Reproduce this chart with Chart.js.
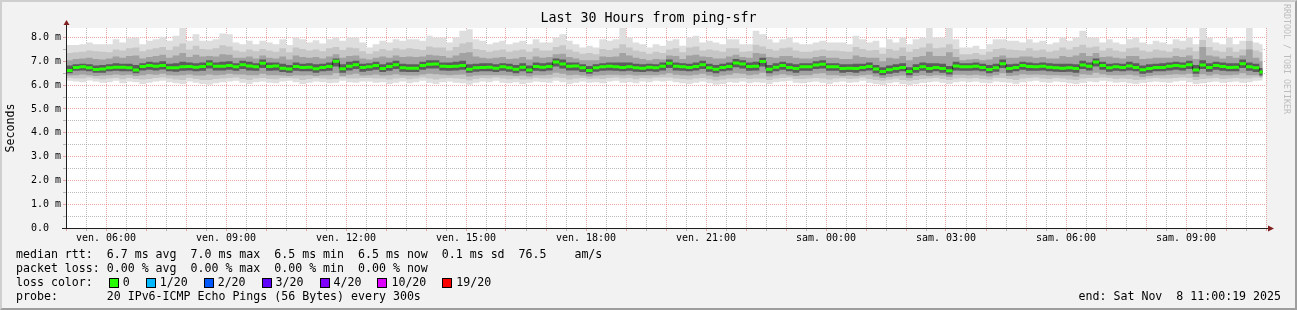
<!DOCTYPE html>
<html>
<head>
<meta charset="utf-8">
<title>Last 30 Hours from ping-sfr</title>
<script src="https://cdn.jsdelivr.net/npm/chart.js"></script>
<style>
  html, body { margin:0; padding:0; background:#f2f2f2; }
  #frame { position:absolute; left:0; top:0; width:1297px; height:310px; box-sizing:border-box;
    border-style:solid; border-width:2px; border-color:#cfcfcf #9e9e9e #9e9e9e #cfcfcf; background:#f2f2f2; }
  #chart { position:absolute; left:0; top:0; }
  .txt { position:absolute; font-family:'DejaVu Sans Mono', monospace; font-size:11.6px; line-height:14px; white-space:pre; color:#000; }
  #legend { left:16px; top:247px; }
  #end { right:16px; top:289px; }
  .box { display:inline-block; width:8px; height:8px; border:1px solid #000; vertical-align:middle; margin:0 4px 0 2px; }
  .lbl { margin-right:14px; }
  #wm { position:absolute; left:1282px; top:4px; writing-mode:vertical-rl; font-family:'DejaVu Sans Mono', monospace;
    font-size:8.3px; line-height:9px; color:#bdbdbd; white-space:pre; }
</style>
</head>
<body>
<div id="frame"></div>
<canvas id="chart" width="1297" height="310"></canvas>
<div id="legend" class="txt"></div>
<div id="end" class="txt"></div>
<div id="wm">RRDTOOL / TOBI OETIKER</div>
<script>
// ---------------- data (ms), one value per 10-minute step from Fri 05:00 ----------------
const stepMinutes = 10;
const dataEndMinute = 1795;

const medianRtt = [
  6.62,6.74,6.77,6.73,6.66,6.68,6.73,6.75,6.75,6.73, 6.64,6.78,6.82,6.79,6.83,6.73,6.73,6.77,6.78,6.75,
  6.78,6.89,6.79,6.79,6.83,6.77,6.86,6.80,6.77,6.92, 6.78,6.80,6.71,6.68,6.78,6.74,6.75,6.69,6.74,6.78,
  7.00,6.69,6.79,6.86,6.74,
  6.77,6.83,6.70,6.78,6.86,6.73,6.71,6.71,6.83,6.88, 6.89,6.79,6.78,6.79,6.82,6.67,6.73,6.74,6.75,6.71,
  6.77,6.73,6.67,6.75,6.64,6.78,6.75,6.78,6.97,6.89, 6.79,6.80,6.73,6.62,6.73,6.77,6.79,6.77,6.74,6.77,
  6.73,6.71,6.75,6.73,6.79,
  6.92,6.79,6.77,6.74,6.78,6.86,6.73,6.67,6.74,6.78, 6.93,6.89,6.78,6.79,6.99,6.67,6.75,6.82,6.74,6.70,
  6.77,6.77,6.85,6.88,6.77,6.77,6.70,6.71,6.70,6.74, 6.78,6.68,6.57,6.65,6.70,6.74,6.57,6.70,6.77,6.70,
  6.74,6.70,6.60,6.80,6.77,
  6.77,6.79,6.74,6.66,6.73,6.90,6.70,6.74,6.83,6.78, 6.77,6.79,6.75,6.73,6.71,6.73,6.70,6.85,6.79,6.97,
  6.82,6.73,6.77,6.74,6.80,6.74,6.65,6.70,6.74,6.74, 6.79,6.82,6.79,6.86,6.64,6.85,6.74,6.83,6.78,6.74,
  6.75,6.90,6.77,6.73,6.55
];
const maxRtt = [
  7.69,7.69,7.72,7.79,7.72,7.72,7.72,7.93,7.79,7.97, 8.00,7.72,7.86,7.93,8.03,7.86,8.07,8.42,7.86,8.14,
  7.86,7.86,7.93,8.17,8.14,7.79,7.72,7.86,7.72,7.86, 7.79,7.72,7.93,7.69,8.00,7.93,7.79,7.89,7.75,7.93,
  8.00,7.86,8.00,8.00,7.79,
  7.58,7.72,7.86,7.79,7.93,7.86,7.93,7.93,7.86,8.07, 8.00,8.00,7.79,8.00,8.28,8.35,7.93,7.86,7.72,7.79,
  7.86,7.72,7.79,7.86,7.72,7.93,7.79,7.79,8.00,8.14, 7.86,7.72,7.58,7.65,7.58,7.93,7.86,7.93,8.42,8.00,
  7.79,7.72,7.58,7.72,7.65,
  7.86,7.93,7.65,8.00,8.07,7.79,7.86,7.79,7.72,7.93, 7.93,7.72,7.72,8.28,8.14,7.93,7.79,7.93,8.00,7.79,
  7.72,7.72,7.79,7.86,7.79,7.79,7.79,7.72,8.07,7.93, 7.79,7.86,7.58,7.93,7.79,8.00,7.72,7.93,8.00,8.42,
  8.00,8.00,8.42,7.93,7.58,
  7.58,7.65,7.51,7.72,7.93,7.93,7.86,7.86,7.79,7.93, 7.79,7.86,7.72,7.79,8.00,7.86,8.00,8.28,8.00,8.00,
  7.79,7.93,7.79,7.72,7.93,8.00,7.79,7.72,7.86,7.79, 7.72,7.93,7.86,8.00,7.72,8.43,8.00,7.79,7.72,8.00,
  7.72,7.86,8.43,7.79,7.72
];
const upperOuter = [
  7.35,7.38,7.40,7.45,7.42,7.40,7.38,7.50,7.45,7.55, 7.58,7.42,7.50,7.55,7.60,7.48,7.62,7.75,7.50,7.65,
  7.52,7.50,7.55,7.68,7.62,7.45,7.40,7.50,7.42,7.52, 7.45,7.40,7.55,7.38,7.58,7.52,7.45,7.50,7.42,7.55,
  7.60,7.48,7.58,7.55,7.42,
  7.32,7.42,7.52,7.45,7.55,7.50,7.55,7.52,7.48,7.62, 7.58,7.58,7.45,7.60,7.75,7.80,7.52,7.48,7.40,7.45,
  7.50,7.40,7.45,7.50,7.40,7.55,7.45,7.45,7.60,7.68, 7.50,7.40,7.32,7.35,7.30,7.52,7.48,7.55,7.72,7.58,
  7.45,7.40,7.32,7.40,7.35,
  7.50,7.55,7.38,7.58,7.62,7.45,7.50,7.45,7.40,7.55, 7.55,7.40,7.42,7.70,7.62,7.52,7.45,7.55,7.58,7.45,
  7.40,7.40,7.45,7.50,7.45,7.45,7.42,7.40,7.60,7.52, 7.45,7.48,7.32,7.52,7.45,7.58,7.40,7.52,7.58,7.75,
  7.55,7.58,7.72,7.52,7.30,
  7.30,7.35,7.28,7.40,7.52,7.55,7.50,7.48,7.45,7.55, 7.45,7.50,7.40,7.45,7.58,7.50,7.60,7.70,7.58,7.62,
  7.45,7.55,7.45,7.40,7.55,7.58,7.45,7.40,7.50,7.45, 7.40,7.55,7.50,7.58,7.42,7.90,7.60,7.45,7.40,7.58,
  7.40,7.50,7.85,7.45,7.38
];
const upperMiddle = [
  7.05,7.10,7.12,7.15,7.10,7.08,7.12,7.20,7.15,7.22, 7.25,7.12,7.18,7.22,7.28,7.15,7.25,7.35,7.18,7.28,
  7.20,7.22,7.20,7.30,7.28,7.15,7.15,7.20,7.12,7.25, 7.15,7.12,7.20,7.08,7.25,7.18,7.15,7.18,7.12,7.20,
  7.30,7.15,7.22,7.25,7.12,
  7.08,7.15,7.20,7.15,7.25,7.18,7.20,7.18,7.20,7.28, 7.25,7.22,7.15,7.25,7.35,7.38,7.20,7.15,7.12,7.15,
  7.18,7.10,7.12,7.18,7.08,7.20,7.15,7.18,7.30,7.32, 7.18,7.12,7.05,7.05,7.05,7.20,7.18,7.20,7.35,7.25,
  7.15,7.10,7.05,7.10,7.08,
  7.25,7.22,7.10,7.25,7.28,7.20,7.18,7.12,7.12,7.20, 7.28,7.18,7.15,7.35,7.32,7.18,7.15,7.22,7.22,7.15,
  7.12,7.12,7.18,7.22,7.15,7.15,7.10,7.10,7.25,7.18, 7.15,7.15,7.00,7.15,7.12,7.22,7.05,7.18,7.22,7.40,
  7.22,7.22,7.38,7.18,7.05,
  7.08,7.10,7.05,7.08,7.18,7.25,7.15,7.15,7.20,7.20, 7.15,7.18,7.12,7.12,7.22,7.18,7.25,7.35,7.22,7.35,
  7.18,7.20,7.15,7.12,7.22,7.22,7.10,7.12,7.15,7.15, 7.15,7.22,7.18,7.25,7.10,7.60,7.25,7.20,7.12,7.22,
  7.15,7.25,7.50,7.15,7.00
];
const upperInner = [
  6.82,6.88,6.90,6.88,6.82,6.85,6.88,6.92,6.90,6.90, 6.85,6.92,6.98,6.95,7.00,6.90,6.92,6.98,6.95,6.92,
  6.95,7.05,6.95,6.98,7.00,6.92,7.02,6.98,6.92,7.08, 6.95,6.95,6.90,6.85,6.95,6.90,6.92,6.88,6.90,6.95,
  7.12,6.88,6.98,7.02,6.90,
  6.92,6.98,6.88,6.95,7.02,6.90,6.88,6.88,6.98,7.05, 7.05,6.95,6.95,6.98,7.02,6.88,6.90,6.92,6.92,6.88,
  6.92,6.90,6.85,6.92,6.82,6.95,6.92,6.95,7.12,7.08, 6.95,6.95,6.88,6.80,6.88,6.92,6.95,6.95,6.95,6.95,
  6.90,6.88,6.90,6.88,6.95,
  7.08,6.95,6.92,6.90,6.95,7.02,6.90,6.85,6.90,6.95, 7.10,7.05,6.95,6.98,7.15,6.85,6.92,6.98,6.92,6.88,
  6.92,6.92,7.00,7.05,6.92,6.92,6.88,6.88,6.90,6.90, 6.95,6.85,6.75,6.82,6.88,6.92,6.75,6.88,6.95,6.92,
  6.92,6.90,6.80,6.98,6.92,
  6.92,6.95,6.90,6.85,6.90,7.08,6.88,6.90,6.98,6.95, 6.92,6.95,6.92,6.90,6.90,6.90,6.88,7.02,6.95,7.12,
  6.98,6.90,6.92,6.90,6.98,6.92,6.82,6.88,6.90,6.92, 6.95,6.98,6.95,7.02,6.85,7.05,6.92,6.98,6.95,6.92,
  6.92,7.08,6.95,6.90,6.72
];
const lowerInner = [
  6.50,6.60,6.62,6.58,6.52,6.52,6.58,6.60,6.58,6.58, 6.50,6.62,6.65,6.62,6.66,6.58,6.56,6.60,6.62,6.58,
  6.60,6.70,6.62,6.62,6.65,6.60,6.68,6.62,6.60,6.72, 6.60,6.62,6.55,6.52,6.60,6.58,6.58,6.52,6.58,6.60,
  6.78,6.52,6.62,6.68,6.56,
  6.60,6.65,6.55,6.60,6.68,6.56,6.55,6.55,6.65,6.70, 6.70,6.62,6.60,6.62,6.65,6.52,6.56,6.58,6.58,6.55,
  6.60,6.56,6.50,6.58,6.50,6.60,6.58,6.62,6.78,6.70, 6.62,6.62,6.55,6.48,6.56,6.60,6.62,6.60,6.58,6.60,
  6.56,6.55,6.58,6.56,6.62,
  6.72,6.62,6.60,6.58,6.62,6.68,6.56,6.50,6.58,6.62, 6.75,6.70,6.60,6.62,6.78,6.50,6.58,6.65,6.58,6.52,
  6.60,6.60,6.68,6.70,6.60,6.60,6.52,6.55,6.52,6.58, 6.62,6.50,6.42,6.48,6.52,6.58,6.42,6.52,6.60,6.52,
  6.58,6.52,6.45,6.62,6.60,
  6.60,6.62,6.58,6.50,6.56,6.72,6.52,6.58,6.65,6.60, 6.60,6.62,6.58,6.56,6.55,6.56,6.52,6.68,6.62,6.78,
  6.65,6.56,6.60,6.58,6.62,6.58,6.48,6.52,6.58,6.58, 6.62,6.65,6.62,6.68,6.48,6.68,6.56,6.65,6.60,6.58,
  6.58,6.72,6.60,6.55,6.40
];
const lowerMiddle = [
  6.40,6.42,6.45,6.42,6.38,6.40,6.42,6.45,6.42,6.44, 6.38,6.42,6.46,6.44,6.48,6.42,6.40,6.42,6.45,6.40,
  6.40,6.45,6.42,6.44,6.48,6.45,6.45,6.42,6.42,6.48, 6.42,6.42,6.40,6.38,6.42,6.40,6.42,6.38,6.42,6.42,
  6.50,6.38,6.44,6.48,6.40,
  6.42,6.45,6.40,6.42,6.46,6.42,6.40,6.40,6.45,6.48, 6.46,6.44,6.42,6.44,6.45,6.36,6.40,6.42,6.42,6.42,
  6.42,6.40,6.38,6.40,6.36,6.42,6.42,6.44,6.52,6.48, 6.42,6.44,6.40,6.36,6.40,6.42,6.44,6.44,6.42,6.44,
  6.40,6.42,6.42,6.42,6.45,
  6.50,6.44,6.42,6.40,6.44,6.48,6.40,6.35,6.40,6.44, 6.50,6.48,6.42,6.45,6.52,6.36,6.42,6.46,6.42,6.38,
  6.42,6.42,6.48,6.50,6.42,6.42,6.38,6.40,6.38,6.42, 6.44,6.36,6.30,6.34,6.38,6.40,6.30,6.38,6.42,6.38,
  6.42,6.40,6.34,6.44,6.44,
  6.42,6.44,6.40,6.36,6.42,6.50,6.38,6.40,6.46,6.44, 6.45,6.44,6.42,6.42,6.40,6.40,6.36,6.46,6.44,6.52,
  6.46,6.42,6.42,6.42,6.44,6.40,6.34,6.38,6.42,6.42, 6.44,6.46,6.45,6.48,6.34,6.46,6.40,6.46,6.42,6.42,
  6.44,6.50,6.42,6.42,6.36
];
const lowerOuter = [
  6.30,6.28,6.28,6.32,6.28,6.25,6.28,6.30,6.25,6.30, 6.26,6.24,6.26,6.30,6.32,6.28,6.24,6.22,6.30,6.26,
  6.22,6.22,6.26,6.28,6.30,6.32,6.26,6.22,6.28,6.30, 6.26,6.25,6.30,6.30,6.28,6.22,6.26,6.30,6.28,6.25,
  6.26,6.32,6.28,6.28,6.30,
  6.30,6.28,6.28,6.24,6.28,6.30,6.25,6.28,6.32,6.28, 6.24,6.28,6.30,6.28,6.26,6.20,6.26,6.30,6.28,6.32,
  6.28,6.25,6.28,6.24,6.25,6.30,6.28,6.28,6.32,6.30, 6.24,6.28,6.30,6.26,6.28,6.26,6.30,6.32,6.28,6.30,
  6.25,6.30,6.28,6.32,6.32,
  6.32,6.28,6.26,6.24,6.28,6.30,6.25,6.20,6.24,6.28, 6.28,6.30,6.26,6.28,6.28,6.22,6.28,6.30,6.32,6.26,
  6.26,6.28,6.30,6.28,6.24,6.28,6.30,6.26,6.28,6.32, 6.26,6.22,6.18,6.24,6.28,6.22,6.18,6.22,6.26,6.28,
  6.30,6.26,6.22,6.28,6.30,
  6.28,6.30,6.26,6.24,6.30,6.30,6.26,6.22,6.28,6.30, 6.32,6.28,6.26,6.30,6.28,6.24,6.22,6.28,6.30,6.30,
  6.32,6.30,6.26,6.28,6.26,6.22,6.24,6.28,6.30,6.28, 6.28,6.30,6.32,6.30,6.22,6.26,6.28,6.30,6.26,6.28,
  6.30,6.28,6.28,6.32,6.30
];
const minRtt = [
  6.18,6.15,6.12,6.20,6.15,6.10,6.12,6.18,6.08,6.15, 6.12,6.05,6.10,6.15,6.18,6.12,6.08,6.05,6.15,6.10,
  6.05,6.02,6.08,6.12,6.15,6.18,6.10,6.05,6.12,6.15, 6.10,6.08,6.15,6.18,6.12,6.05,6.10,6.15,6.12,6.08,
  6.10,6.18,6.12,6.10,6.15,
  6.15,6.10,6.12,6.05,6.10,6.15,6.08,6.12,6.18,6.10, 6.05,6.12,6.15,6.10,6.08,6.02,6.10,6.15,6.12,6.18,
  6.10,6.08,6.12,6.05,6.10,6.15,6.12,6.10,6.18,6.12, 6.05,6.10,6.15,6.10,6.12,6.08,6.15,6.18,6.10,6.12,
  6.08,6.15,6.12,6.18,6.15,
  6.18,6.12,6.08,6.05,6.10,6.15,6.08,6.02,6.05,6.12, 6.10,6.15,6.08,6.12,6.10,6.05,6.12,6.15,6.18,6.10,
  6.08,6.12,6.15,6.10,6.05,6.12,6.15,6.10,6.12,6.18, 6.10,6.05,6.02,6.08,6.12,6.05,6.00,6.05,6.10,6.12,
  6.15,6.10,6.05,6.12,6.15,
  6.12,6.15,6.10,6.08,6.15,6.12,6.10,6.05,6.12,6.15, 6.18,6.12,6.10,6.15,6.12,6.08,6.05,6.10,6.15,6.12,
  6.18,6.15,6.10,6.12,6.08,6.05,6.10,6.12,6.15,6.12, 6.10,6.15,6.18,6.12,6.05,6.08,6.12,6.15,6.10,6.12,
  6.15,6.10,6.12,6.18,6.20
];

// ---------------- ticks / labels ----------------
const xTickLabels = ['ven. 06:00','ven. 09:00','ven. 12:00','ven. 15:00','ven. 18:00',
                     'ven. 21:00','sam. 00:00','sam. 03:00','sam. 06:00','sam. 09:00'];
const xFirstLabelMinute = 60, xLabelEveryMinutes = 180;
const yTickLabels = ['0.0  ','1.0 m','2.0 m','3.0 m','4.0 m','5.0 m','6.0 m','7.0 m','8.0 m'];

const statLines = [
  'median rtt:  6.7 ms avg  7.0 ms max  6.5 ms min  6.5 ms now  0.1 ms sd  76.5    am/s',
  'packet loss: 0.00 % avg  0.00 % max  0.00 % min  0.00 % now'
];
const lossLabels = ['0','1/20','2/20','3/20','4/20','10/20','19/20'];
const lossColors = ['#26ff00','#00b8ff','#0059ff','#5e00ff','#7e00ff','#dd00ff','#ff0000'];
const probeLine = 'probe:       20 IPv6-ICMP Echo Pings (56 Bytes) every 300s';
const endLine = 'end: Sat Nov  8 11:00:19 2025';

// ---------------- legend (HTML text) ----------------
(function buildLegend() {
  const lg = document.getElementById('legend');
  let html = statLines.join('\n') + '\nloss color:  ';
  lossLabels.forEach((l, i) => {
    html += '<span class="box" style="background:' + lossColors[i] + '"></span><span class="lbl">' + l + '</span>';
  });
  html += '\n' + probeLine;
  lg.innerHTML = html;
  document.getElementById('end').textContent = endLine;
})();

// ---------------- chart ----------------
function stepPts(arr) {
  const pts = arr.map((v, i) => ({x: i * stepMinutes, y: v}));
  pts.push({x: dataEndMinute, y: arr[arr.length - 1]});
  return pts;
}
function segPts(arr) {
  const pts = [];
  arr.forEach((v, i) => {
    const x1 = Math.min((i + 1) * stepMinutes, dataEndMinute);
    pts.push({x: i * stepMinutes, y: v}, {x: x1, y: v}, {x: x1, y: null});
  });
  return pts;
}
function band(hi, lo, color, order) {
  const common = {stepped: true, borderWidth: 0, borderColor: 'rgba(0,0,0,0)', pointRadius: 0, order};
  return [
    Object.assign({data: stepPts(hi), fill: false}, common),
    Object.assign({data: stepPts(lo), fill: '-1', backgroundColor: color}, common)
  ];
}

const MONO = "'DejaVu Sans Mono', monospace";
Chart.defaults.font.family = MONO;
Chart.defaults.color = '#000';

const minorGrid = 'rgba(143,143,143,0.6)';
const majorGrid = 'rgba(222,79,79,0.5)';

const canvasBg = {
  id: 'canvasBg',
  beforeDraw(chart) {
    const {ctx, chartArea: a} = chart;
    ctx.save();
    ctx.fillStyle = '#ffffff';
    ctx.fillRect(a.left, a.top, a.right - a.left, a.bottom - a.top);
    ctx.restore();
  }
};
const axisArrows = {
  id: 'axisArrows',
  afterDatasetsDraw(chart) {
    const {ctx, chartArea: a} = chart;
    const x0 = Math.round(a.left) + 0.5, y0 = Math.round(a.bottom) + 0.5;
    ctx.save();
    ctx.strokeStyle = '#1f1f1f';
    ctx.lineWidth = 1;
    ctx.beginPath();
    ctx.moveTo(x0, y0); ctx.lineTo(x0, a.top - 4);
    ctx.moveTo(a.left - 4, y0); ctx.lineTo(a.right + 4, y0);
    ctx.stroke();
    ctx.fillStyle = '#801f1f';
    ctx.beginPath();
    ctx.moveTo(x0 - 3, a.top - 3); ctx.lineTo(x0 + 3, a.top - 3); ctx.lineTo(x0, a.top - 8);
    ctx.closePath(); ctx.fill();
    ctx.beginPath();
    ctx.moveTo(a.right + 2, y0 - 3); ctx.lineTo(a.right + 2, y0 + 3); ctx.lineTo(a.right + 8, y0);
    ctx.closePath(); ctx.fill();
    ctx.restore();
  }
};

const datasets = [
  {data: segPts(medianRtt), borderColor: '#26ff00', borderWidth: 3, borderCapStyle: 'butt',
   pointRadius: 0, spanGaps: false, fill: false, order: 1},
  {data: stepPts(medianRtt), stepped: true, borderColor: '#202020', borderWidth: 1,
   pointRadius: 0, fill: false, order: 2},
  ...band(upperInner, lowerInner, '#5c5c5c', 3),
  ...band(upperMiddle, lowerMiddle, '#a2a2a2', 4),
  ...band(upperOuter, lowerOuter, '#c6c6c6', 5),
  ...band(maxRtt, minRtt, '#dedede', 6)
];

new Chart(document.getElementById('chart'), {
  type: 'line',
  data: {datasets},
  options: {
    responsive: false,
    animation: false,
    devicePixelRatio: 1,
    events: [],
    layout: {padding: 0},
    plugins: {
      legend: {display: false},
      tooltip: {enabled: false},
      title: {
        display: true,
        text: 'Last 30 Hours from ping-sfr',
        color: '#000',
        font: {family: MONO, size: 13.3, weight: 'normal', lineHeight: '16px'},
        padding: {top: 11, bottom: 1}
      }
    },
    scales: {
      x: {
        type: 'linear',
        min: 0,
        max: 1800,
        afterFit: s => { s.height = 82; },
        ticks: {
          stepSize: 30,
          maxTicksLimit: 1000,
          autoSkip: false,
          maxRotation: 0,
          minRotation: 0,
          padding: 1,
          font: {size: 10},
          color: '#000',
          callback: v => {
            const r = v - xFirstLabelMinute;
            return (r >= 0 && r % xLabelEveryMinutes === 0) ? xTickLabels[r / xLabelEveryMinutes] : '';
          }
        },
        grid: {
          color: c => (c.tick && c.tick.value % 60 === 0) ? majorGrid : minorGrid,
          tickColor: c => (c.tick && c.tick.value % 60 === 0) ? majorGrid : minorGrid,
          lineWidth: 1,
          tickLength: 3,
          drawTicks: true
        },
        border: {display: false, dash: [1, 1]}
      },
      y: {
        type: 'linear',
        min: 0,
        max: 8.4,
        afterFit: s => { s.width = 66; },
        ticks: {
          stepSize: 0.5,
          maxTicksLimit: 100,
          includeBounds: false,
          autoSkip: false,
          padding: 2,
          font: {size: 10},
          color: '#000',
          callback: v => Number.isInteger(v) ? yTickLabels[v] : ''
        },
        grid: {
          color: c => (c.tick && Number.isInteger(c.tick.value)) ? majorGrid : minorGrid,
          tickColor: c => (c.tick && Number.isInteger(c.tick.value)) ? majorGrid : minorGrid,
          lineWidth: 1,
          tickLength: 3,
          drawTicks: true
        },
        border: {display: false, dash: [1, 1]},
        title: {
          display: true,
          text: 'Seconds',
          color: '#000',
          font: {family: MONO, size: 11.6, lineHeight: '14px'},
          padding: {top: 3.5, bottom: 0}
        }
      },
      yR: {
        type: 'linear',
        position: 'right',
        display: true,
        afterFit: s => { s.width = 31; },
        ticks: {display: false},
        grid: {display: false},
        border: {display: false}
      }
    }
  },
  plugins: [canvasBg, axisArrows]
});
</script>
</body>
</html>
